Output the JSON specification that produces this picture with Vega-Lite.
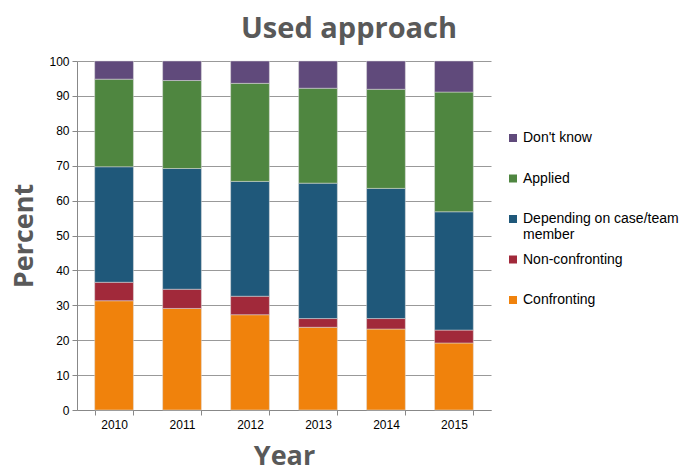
{
  "$schema": "https://vega.github.io/schema/vega-lite/v6.json",
  "autosize": "none",
  "width": 414,
  "height": 349,
  "padding": {"left": 77, "top": 61, "right": 209, "bottom": 63},
  "background": "white",
  "title": {"text": "Used approach", "fontSize": 29, "font": "Open Sans", "fontWeight": "bold", "color": "#595959", "anchor": "middle", "dx": 65, "offset": 11},
  "data": {"values": [
    {"Year": "2010", "Approach": "Confronting", "k": 1, "Percent": 31.3},
    {"Year": "2010", "Approach": "Non-confronting", "k": 2, "Percent": 5.3},
    {"Year": "2010", "Approach": "Depending on case/team member", "k": 3, "Percent": 33.1},
    {"Year": "2010", "Approach": "Applied", "k": 4, "Percent": 25.1},
    {"Year": "2010", "Approach": "Don't know", "k": 5, "Percent": 5.2},
    {"Year": "2011", "Approach": "Confronting", "k": 1, "Percent": 29.1},
    {"Year": "2011", "Approach": "Non-confronting", "k": 2, "Percent": 5.5},
    {"Year": "2011", "Approach": "Depending on case/team member", "k": 3, "Percent": 34.6},
    {"Year": "2011", "Approach": "Applied", "k": 4, "Percent": 25.2},
    {"Year": "2011", "Approach": "Don't know", "k": 5, "Percent": 5.6},
    {"Year": "2012", "Approach": "Confronting", "k": 1, "Percent": 27.3},
    {"Year": "2012", "Approach": "Non-confronting", "k": 2, "Percent": 5.3},
    {"Year": "2012", "Approach": "Depending on case/team member", "k": 3, "Percent": 32.9},
    {"Year": "2012", "Approach": "Applied", "k": 4, "Percent": 28.1},
    {"Year": "2012", "Approach": "Don't know", "k": 5, "Percent": 6.4},
    {"Year": "2013", "Approach": "Confronting", "k": 1, "Percent": 23.7},
    {"Year": "2013", "Approach": "Non-confronting", "k": 2, "Percent": 2.5},
    {"Year": "2013", "Approach": "Depending on case/team member", "k": 3, "Percent": 38.8},
    {"Year": "2013", "Approach": "Applied", "k": 4, "Percent": 27.2},
    {"Year": "2013", "Approach": "Don't know", "k": 5, "Percent": 7.8},
    {"Year": "2014", "Approach": "Confronting", "k": 1, "Percent": 23.2},
    {"Year": "2014", "Approach": "Non-confronting", "k": 2, "Percent": 3.0},
    {"Year": "2014", "Approach": "Depending on case/team member", "k": 3, "Percent": 37.3},
    {"Year": "2014", "Approach": "Applied", "k": 4, "Percent": 28.4},
    {"Year": "2014", "Approach": "Don't know", "k": 5, "Percent": 8.1},
    {"Year": "2015", "Approach": "Confronting", "k": 1, "Percent": 19.2},
    {"Year": "2015", "Approach": "Non-confronting", "k": 2, "Percent": 3.7},
    {"Year": "2015", "Approach": "Depending on case/team member", "k": 3, "Percent": 33.9},
    {"Year": "2015", "Approach": "Applied", "k": 4, "Percent": 34.3},
    {"Year": "2015", "Approach": "Don't know", "k": 5, "Percent": 8.9}
  ]},
  "mark": {"type": "bar", "stroke": "#dddddd", "strokeWidth": 0.5},
  "encoding": {
    "x": {
      "field": "Year", "type": "ordinal",
      "scale": {"paddingInner": 0.43, "paddingOuter": 0.26},
      "axis": {
        "title": "Year", "titleFontSize": 27, "titleFont": "Open Sans", "titleFontWeight": "bold", "titleColor": "#595959", "titlePadding": 13,
        "labelAngle": 0, "labelFontSize": 12, "labelFont": "Liberation Sans", "labelColor": "#000000", "labelPadding": 4,
        "tickBand": "extent", "tickSize": 5, "tickColor": "#888888", "domainColor": "#888888", "grid": false
      }
    },
    "y": {
      "field": "Percent", "type": "quantitative", "stack": "zero",
      "scale": {"domain": [0, 100], "nice": false},
      "axis": {
        "title": "Percent", "titleFontSize": 27, "titleFont": "Open Sans", "titleFontWeight": "bold", "titleColor": "#595959", "titlePadding": 10,
        "values": [0, 10, 20, 30, 40, 50, 60, 70, 80, 90, 100],
        "labelFontSize": 12, "labelFont": "Liberation Sans", "labelColor": "#000000", "labelPadding": 3,
        "tickSize": 5, "tickColor": "#888888", "domainColor": "#888888",
        "grid": true, "gridColor": "#999999", "gridWidth": 1
      }
    },
    "color": {
      "field": "Approach", "type": "nominal",
      "scale": {
        "domain": ["Don't know", "Applied", "Depending on case/team member", "Non-confronting", "Confronting"],
        "range": ["#604a7b", "#4f8640", "#1f587a", "#a1293a", "#f0820c"]
      },
      "legend": {
        "title": null, "orient": "none", "legendX": 429, "legendY": 70,
        "symbolType": "square", "symbolSize": 64, "symbolStrokeWidth": 0,
        "labelFontSize": 14, "labelFont": "Liberation Sans", "labelColor": "#000000",
        "rowPadding": 10.5, "labelOffset": 3, "labelLimit": 300,
        "labelExpr": "datum.label == 'Depending on case/team member' ? ['Depending on case/team', 'member'] : [datum.label, '']"
      }
    },
    "order": {"field": "k", "type": "quantitative", "sort": "ascending"}
  },
  "config": {"view": {"stroke": null}}
}
